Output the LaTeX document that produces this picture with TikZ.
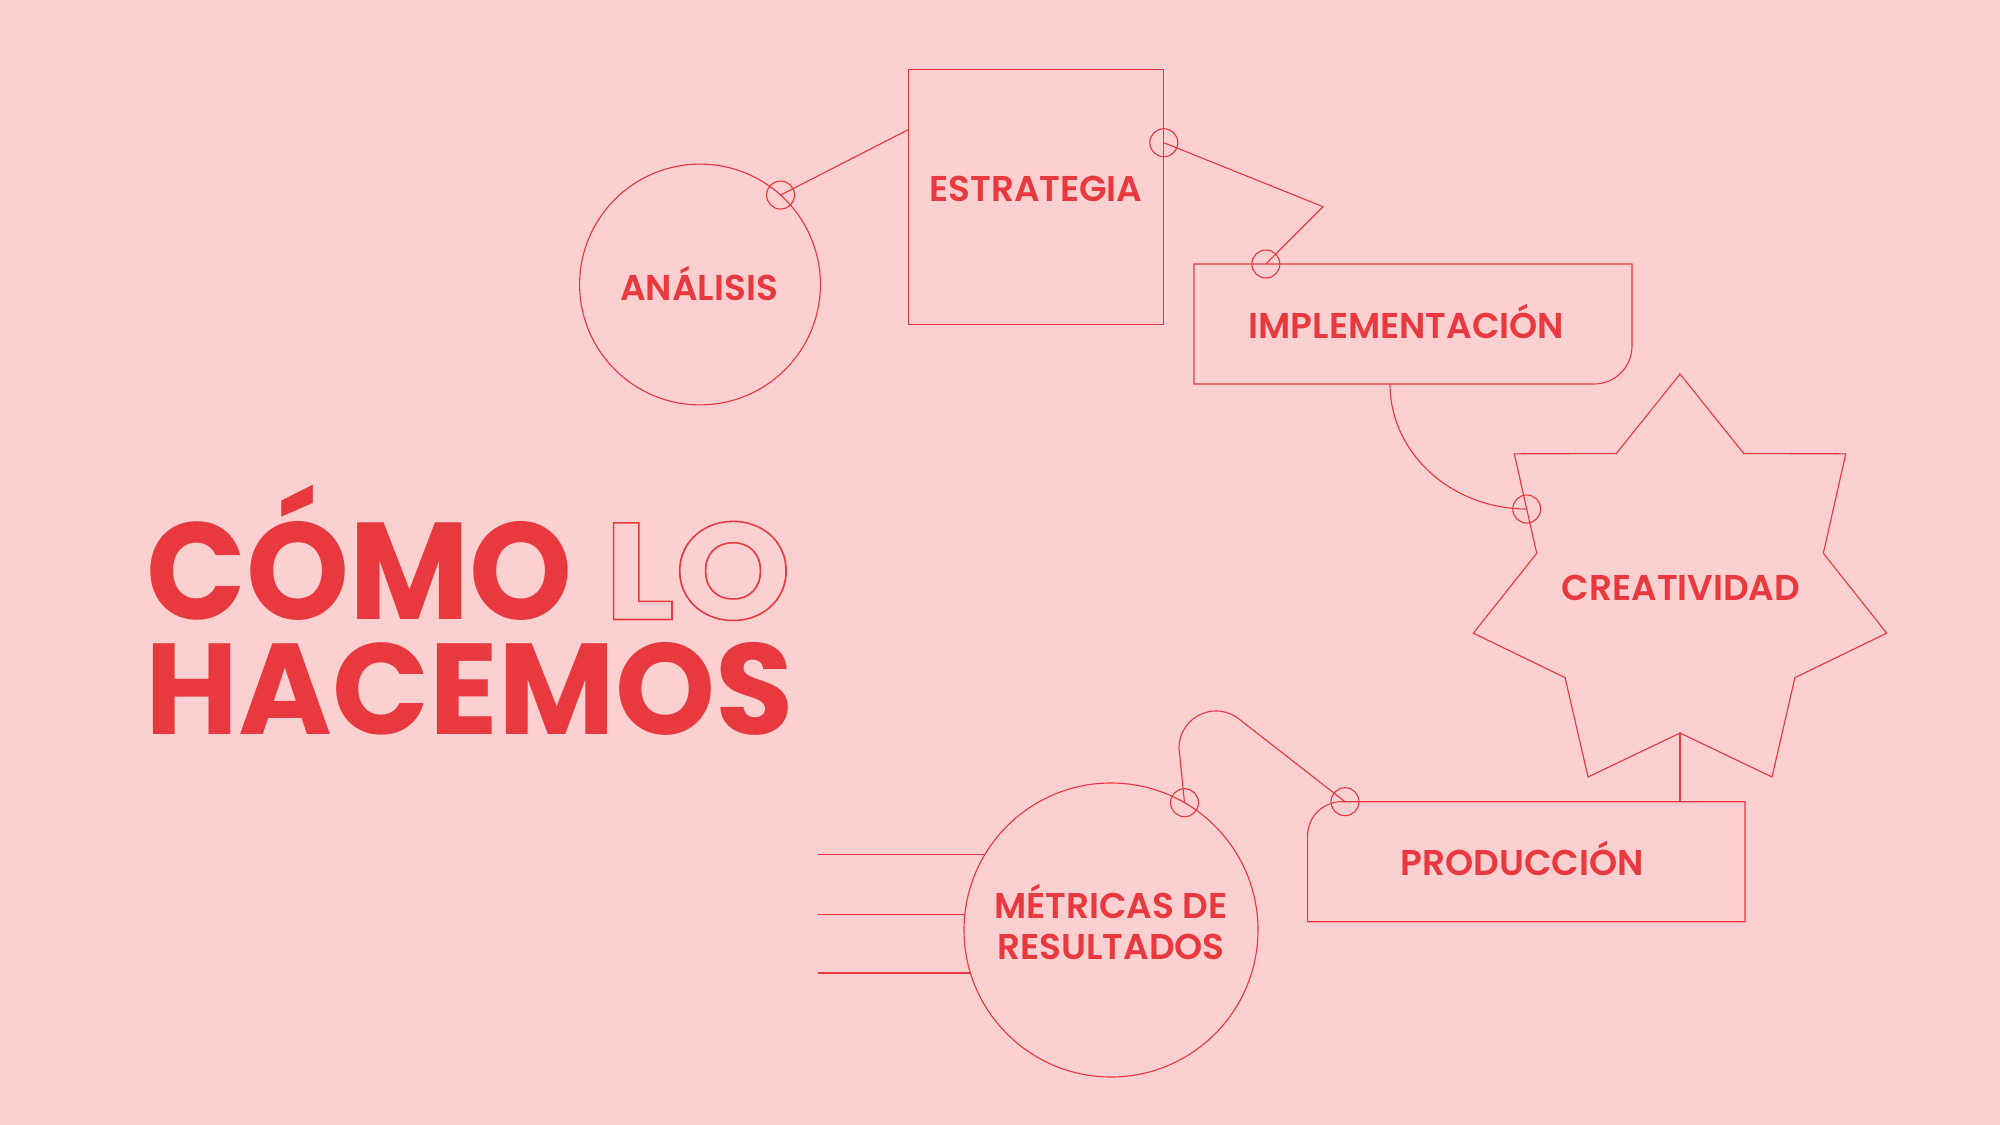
\documentclass[tikz,border=0pt]{standalone}
\usepackage{fontspec}
\setmainfont{Poppins}
\newfontfamily\lblfont{Poppins}[UprightFont={* SemiBold}]
\usetikzlibrary{calc}
\definecolor{bgpink}{HTML}{FCCFD0}
\definecolor{rosso}{HTML}{E8393F}
\tikzset{
  ln/.style={draw=rosso, line width=1.6pt},
  jn/.style={circle, draw=rosso, line width=1.6pt, minimum size=1.4cm, inner sep=0pt, outer sep=0pt},
  lbl/.style={text=rosso, font=\lblfont\fontsize{51}{60}\selectfont, inner sep=0pt, anchor=base},
  ttlA/.style={text=rosso, font=\bfseries\fontsize{196}{230}\selectfont, inner sep=0pt, anchor=base west, text depth=0pt},
  ttlB/.style={text=rosso, font=\bfseries\fontsize{184}{220}\selectfont, inner sep=0pt, anchor=base west, text depth=0pt, text height=4.7cm},
  shp/.style={ln, inner sep=0pt, outer sep=0pt},
}
\begin{document}
\begin{tikzpicture}[x=0.05cm, y=0.05cm]
\fill[bgpink] (0,0) rectangle (2000,-1125);
\useasboundingbox (0,0) rectangle (2000,-1125);

% title
\node[ttlA] (t1) at (146.7,-619.5) {\scalebox{0.951}[1]{CÓMO}};
\node[ttlA] (t2) at (604.3,-619.5) {\scalebox{1.072}[1]{\special{pdf:literal direct 1 Tr 2.2 w}LO\special{pdf:literal direct 0 Tr}}};
\node[ttlB] (t3) at (145.4,-734.5) {\scalebox{0.984}[1]{HACEMOS}};

% shapes
\node[circle, shp, minimum size=12.04cm] (ana) at (700,-284.5) {};
\node[rectangle, shp, minimum size=12.75cm] (est) at (1036.3,-196.6) {};
\draw[ln] (1194,-264) -- (1632,-264) -- (1632,-346) arc[start angle=0, end angle=-90, radius=38] -- (1194,-384) -- cycle;
\coordinate (implTop) at (1265.8,-264);
\coordinate (implBot) at (1390,-384);

\coordinate (sc) at (1680,-586);
\draw[ln] ($(sc)+(90:212)$) \foreach \k in {0,...,6}{ -- ($(sc)+(90-\k*51.4286-25.7143:147)$) -- ($(sc)+(90-\k*51.4286-51.4286:212)$)} -- cycle;
\coordinate (starBot) at ($(sc)+(-90:147)$);
\coordinate (starLeft) at (1526.7,-509);

\draw[ln] (1307.6,-921.7) -- (1307.6,-835.7) arc[start angle=180, end angle=90, radius=34] -- (1745,-801.7) -- (1745,-921.7) -- cycle;
\coordinate (prodTop) at (1345,-801.7);
\coordinate (prodStar) at (1680,-801.7);

\node[circle, shp, minimum size=14.7cm] (met) at (1111,-930) {};
\coordinate (lft) at (818,0);

% connectors
\coordinate (c1) at ($(est.north west)+(0,-60.3)$);
\coordinate (j2) at ($(est.north east)+(0,-73.6)$);
\coordinate (bend) at (1323,-206.7);
\draw[ln] (ana.48) -- (c1);
\draw[ln] (j2) -- (bend) -- (implTop);
\draw[ln] (implBot) .. controls (1390,-453) and (1451.4,-509) .. (starLeft);
\draw[ln] (starBot) -- (prodStar);
\draw[ln] (met.60.6) -- (1179,-748) arc[start angle=180, end angle=50.2, radius=37] -- (prodTop);
\draw[ln] (met.149.8) -- (met.149.8 -| lft);
\draw[ln] (met.174.4) -- (met.174.4 -| lft);
\draw[ln] (met.197.8) -- (met.197.8 -| lft);

% junction rings
\node[jn] (r1) at (ana.48) {};
\node[jn] (r2) at (j2) {};
\node[jn] (r3) at (implTop) {};
\node[jn] (r4) at (starLeft) {};
\node[jn] (r5) at (prodTop) {};
\node[jn] (r6) at (met.60.6) {};

% labels
\node[lbl] (lana) at (699,-300) {ANÁLISIS};
\node[lbl] (lest) at (1036,-201.7) {ESTRATEGIA};
\node[lbl] (limp) at (1406.5,-338.4) {IMPLEMENTACIÓN};
\node[lbl] (lcre) at (1681,-600.2) {CREATIVIDAD};
\node[lbl] (lpro) at (1522,-875.7) {PRODUCCIÓN};
\node[lbl] (lmet1) at (1111,-918.3) {MÉTRICAS DE};
\node[lbl] (lmet2) at (1111,-959.3) {RESULTADOS};
\end{tikzpicture}
\end{document}
